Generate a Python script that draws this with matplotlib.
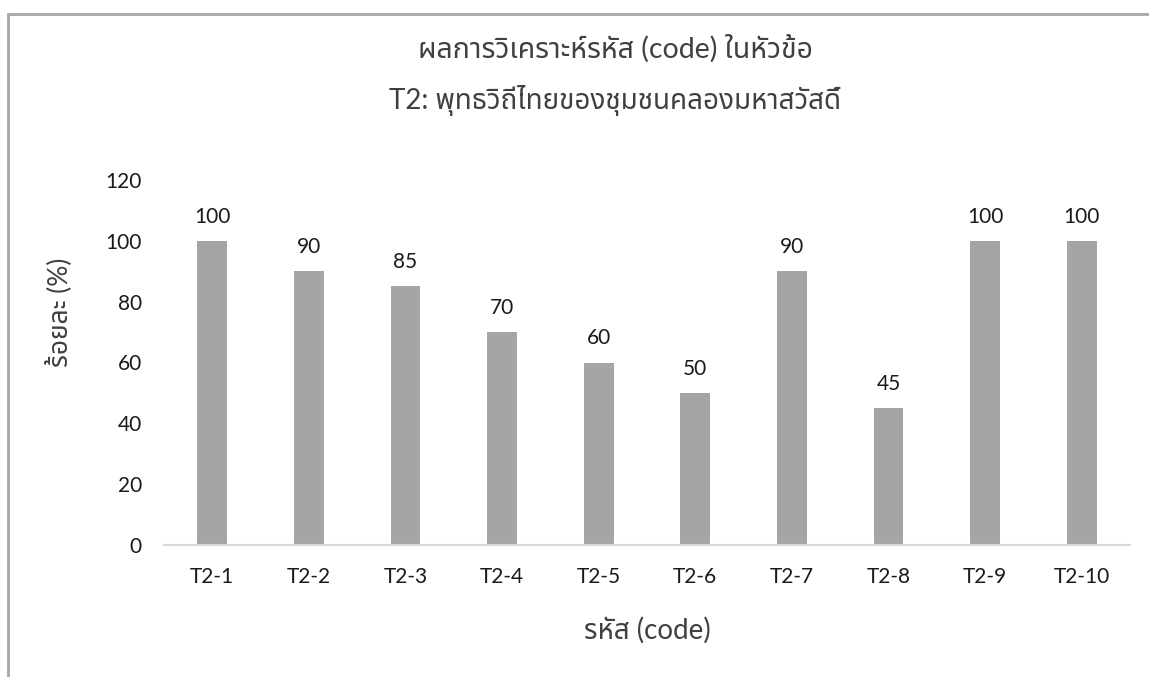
import matplotlib
matplotlib.use("Agg")
import matplotlib.pyplot as plt
from matplotlib.patches import Rectangle

# Data
codes = ["T2-1", "T2-2", "T2-3", "T2-4", "T2-5", "T2-6", "T2-7", "T2-8", "T2-9", "T2-10"]
percents = [100, 90, 85, 70, 60, 50, 90, 45, 100, 100]
y_ticks = [0, 20, 40, 60, 80, 100, 120]

TITLE_1 = "ผลการวิเคราะห์รหัส (code) ในหัวข้อ"
TITLE_2 = "T2: พุทธวิถีไทยของชุมชนคลองมหาสวัสดิ์"
X_LABEL = "รหัส (code)"
Y_LABEL = "ร้อยละ (%)"

FONTS = ["Lato", "Noto Sans Thai", "DejaVu Sans"]
plt.rcParams["font.family"] = FONTS

W, H = 1149, 677
fig = plt.figure(figsize=(W / 100, H / 100), dpi=100)
# plot area: x 164..1130 px, y 180..545 px
ax = fig.add_axes([164 / W, 1 - 545 / H, (1130 - 164) / W, (545 - 180) / H])

x = range(len(codes))
ax.bar(x, percents, width=0.31, color="#a5a5a5")

# Value labels on top of the bars
for i, v in zip(x, percents):
    ax.annotate(str(v), (i, v), xytext=(0, 13), textcoords="offset points",
                ha="center", va="baseline", fontsize=15, color="#1a1a1a")

ax.set_xlim(-0.5, len(codes) - 0.5)
ax.set_ylim(0, 120)
ax.set_yticks(y_ticks)
ax.set_xticks(list(x))
ax.set_xticklabels(codes)
ax.tick_params(axis="both", length=0, labelsize=15, colors="#1a1a1a")
ax.tick_params(axis="x", pad=16)
ax.tick_params(axis="y", pad=16)

for side in ["top", "right", "left"]:
    ax.spines[side].set_visible(False)
ax.spines["bottom"].set_color("#d9d9d9")
ax.spines["bottom"].set_linewidth(1.5)

# Titles and axis labels
fig.text(615 / W, 1 - 49 / H, TITLE_1, ha="center", va="center", fontsize=20.5, color="#404040")
fig.text(615 / W, 1 - 101 / H, TITLE_2, ha="center", va="center", fontsize=20, color="#404040")
fig.text(647 / W, 1 - 630 / H, X_LABEL, ha="center", va="center", fontsize=20, color="#404040")
fig.text(60 / W, 1 - 312 / H, Y_LABEL, ha="center", va="center", rotation=90,
         fontsize=19, color="#404040")

# Outer chart border (cut off at right and bottom)
fig.patches.append(Rectangle((8 / W, -0.1), 1.2, 1.1 - 14 / H, transform=fig.transFigure,
                             fill=False, edgecolor="#a6a6a6", linewidth=2))

fig.savefig("out.png")
